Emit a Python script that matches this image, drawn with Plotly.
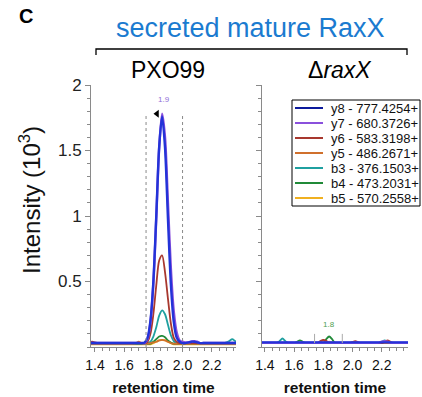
import plotly.graph_objects as go

# ---------------- data ----------------
RT = [1.36, 1.38, 1.40, 1.42, 1.44, 1.46, 1.48, 1.50, 1.52, 1.54, 1.56, 1.58, 1.60,
      1.62, 1.64, 1.66, 1.68, 1.70, 1.72, 1.74, 1.76, 1.78, 1.80, 1.82, 1.84, 1.86,
      1.88, 1.90, 1.92, 1.94, 1.96, 1.98, 2.00, 2.02, 2.04, 2.06, 2.08, 2.10, 2.12,
      2.14, 2.16, 2.18, 2.20, 2.22, 2.24, 2.26, 2.28, 2.30, 2.32, 2.34, 2.36, 2.38]

SERIES_NAMES = ["y8 - 777.4254+", "y7 - 680.3726+", "y6 - 583.3198+", "y5 - 486.2671+",
                "b3 - 376.1503+", "b4 - 473.2031+", "b5 - 570.2558+"]
COLORS = ["#2333d8", "#8a50dc", "#a8382e", "#d0702c", "#1fa0a0", "#208a38", "#f0b020"]
LEGEND_COLORS = ["#0c1a9c", "#8a50dc", "#a8382e", "#d0702c", "#1fa0a0", "#208a38", "#f0b020"]

# PXO99 intensities (10^3)
PXO_Y8 = [0.03, 0.03, 0.03, 0.03, 0.03, 0.03, 0.03, 0.03, 0.03, 0.03, 0.03, 0.03, 0.03,
          0.03, 0.03, 0.03, 0.03, 0.03, 0.03, 0.035, 0.07, 0.2, 0.5, 1.0, 1.53, 1.76,
          1.52, 0.98, 0.48, 0.19, 0.07, 0.04, 0.03, 0.03, 0.035, 0.04, 0.04, 0.035, 0.03,
          0.03, 0.03, 0.03, 0.03, 0.03, 0.03, 0.03, 0.03, 0.03, 0.03, 0.03, 0.03, 0.03]
PXO_Y7 = [0.03, 0.03, 0.03, 0.03, 0.03, 0.03, 0.03, 0.03, 0.03, 0.03, 0.03, 0.03, 0.03,
          0.03, 0.03, 0.03, 0.03, 0.03, 0.03, 0.03, 0.06, 0.19, 0.48, 0.98, 1.52, 1.78,
          1.6, 1.1, 0.6, 0.27, 0.11, 0.05, 0.04, 0.035, 0.035, 0.04, 0.045, 0.04, 0.03,
          0.03, 0.03, 0.03, 0.03, 0.03, 0.03, 0.03, 0.03, 0.03, 0.03, 0.03, 0.03, 0.03]
PXO_Y6 = [0.03, 0.04, 0.035, 0.03, 0.03, 0.03, 0.03, 0.03, 0.03, 0.03, 0.03, 0.03, 0.03,
          0.03, 0.03, 0.03, 0.03, 0.03, 0.03, 0.03, 0.04, 0.1, 0.25, 0.47, 0.66, 0.7,
          0.57, 0.37, 0.18, 0.07, 0.04, 0.03, 0.03, 0.03, 0.03, 0.03, 0.03, 0.03, 0.03,
          0.03, 0.03, 0.03, 0.03, 0.03, 0.03, 0.03, 0.03, 0.03, 0.03, 0.03, 0.03, 0.03]
PXO_Y5 = [0.025, 0.025, 0.025, 0.025, 0.025, 0.025, 0.025, 0.025, 0.025, 0.025, 0.025, 0.025, 0.025,
          0.025, 0.025, 0.025, 0.03, 0.04, 0.03, 0.025, 0.025, 0.03, 0.035, 0.04, 0.05, 0.055,
          0.05, 0.04, 0.03, 0.025, 0.025, 0.025, 0.025, 0.025, 0.025, 0.025, 0.025, 0.025, 0.025,
          0.025, 0.025, 0.025, 0.025, 0.025, 0.025, 0.025, 0.025, 0.025, 0.025, 0.025, 0.025, 0.025]
PXO_B3 = [0.03, 0.03, 0.03, 0.03, 0.03, 0.03, 0.03, 0.03, 0.03, 0.03, 0.03, 0.03, 0.03,
          0.03, 0.03, 0.03, 0.03, 0.03, 0.03, 0.03, 0.03, 0.04, 0.08, 0.15, 0.24, 0.28,
          0.25, 0.17, 0.09, 0.045, 0.03, 0.03, 0.03, 0.03, 0.03, 0.03, 0.03, 0.03, 0.03,
          0.03, 0.03, 0.03, 0.03, 0.03, 0.03, 0.03, 0.03, 0.035, 0.045, 0.06, 0.045, 0.03]
PXO_B4 = [0.025, 0.025, 0.025, 0.025, 0.025, 0.025, 0.025, 0.025, 0.025, 0.025, 0.025, 0.025, 0.025,
          0.025, 0.025, 0.025, 0.025, 0.025, 0.025, 0.025, 0.025, 0.025, 0.04, 0.06, 0.08, 0.085,
          0.075, 0.05, 0.035, 0.025, 0.025, 0.025, 0.025, 0.025, 0.025, 0.025, 0.025, 0.025, 0.025,
          0.025, 0.025, 0.025, 0.025, 0.025, 0.025, 0.025, 0.025, 0.025, 0.025, 0.025, 0.025, 0.025]
PXO_B5 = [0.02, 0.02, 0.02, 0.02, 0.02, 0.02, 0.02, 0.02, 0.02, 0.02, 0.02, 0.02, 0.02,
          0.02, 0.02, 0.02, 0.02, 0.02, 0.02, 0.02, 0.02, 0.02, 0.03, 0.04, 0.05, 0.055,
          0.05, 0.04, 0.03, 0.02, 0.02, 0.02, 0.02, 0.02, 0.02, 0.02, 0.02, 0.02, 0.02,
          0.02, 0.02, 0.02, 0.02, 0.02, 0.02, 0.02, 0.02, 0.02, 0.02, 0.02, 0.02, 0.02]

# delta raxX intensities (10^3)
RAX_Y8 = [0.035, 0.035, 0.035, 0.035, 0.035, 0.035, 0.035, 0.035, 0.035, 0.035, 0.035, 0.035, 0.035,
          0.035, 0.035, 0.035, 0.035, 0.035, 0.035, 0.035, 0.035, 0.035, 0.035, 0.035, 0.035, 0.035,
          0.035, 0.035, 0.035, 0.035, 0.035, 0.035, 0.035, 0.035, 0.035, 0.035, 0.035, 0.035, 0.035,
          0.035, 0.035, 0.035, 0.035, 0.035, 0.035, 0.035, 0.035, 0.035, 0.035, 0.035, 0.035, 0.035]
RAX_Y7 = [0.033, 0.033, 0.033, 0.033, 0.033, 0.033, 0.033, 0.033, 0.033, 0.033, 0.033, 0.033, 0.033,
          0.033, 0.033, 0.033, 0.033, 0.033, 0.033, 0.033, 0.033, 0.033, 0.033, 0.033, 0.033, 0.033,
          0.033, 0.033, 0.033, 0.033, 0.033, 0.033, 0.033, 0.033, 0.033, 0.033, 0.033, 0.033, 0.033,
          0.033, 0.033, 0.033, 0.04, 0.045, 0.04, 0.033, 0.033, 0.033, 0.033, 0.033, 0.033, 0.033]
RAX_Y6 = [0.03, 0.03, 0.03, 0.03, 0.03, 0.03, 0.03, 0.03, 0.03, 0.03, 0.03, 0.03, 0.03,
          0.03, 0.03, 0.03, 0.03, 0.03, 0.03, 0.03, 0.03, 0.045, 0.055, 0.045, 0.03, 0.03,
          0.03, 0.03, 0.03, 0.03, 0.03, 0.03, 0.035, 0.045, 0.035, 0.03, 0.03, 0.03, 0.03,
          0.03, 0.03, 0.03, 0.03, 0.04, 0.05, 0.04, 0.03, 0.03, 0.03, 0.03, 0.03, 0.03]
RAX_Y5 = [0.03, 0.03, 0.03, 0.03, 0.03, 0.03, 0.03, 0.03, 0.03, 0.03, 0.03, 0.03, 0.03,
          0.03, 0.03, 0.03, 0.03, 0.03, 0.03, 0.03, 0.03, 0.04, 0.05, 0.045, 0.03, 0.03,
          0.03, 0.03, 0.03, 0.03, 0.03, 0.03, 0.04, 0.04, 0.03, 0.03, 0.03, 0.03, 0.03,
          0.03, 0.03, 0.03, 0.03, 0.03, 0.03, 0.03, 0.03, 0.03, 0.03, 0.03, 0.03, 0.03]
RAX_B3 = [0.03, 0.03, 0.03, 0.03, 0.03, 0.03, 0.03, 0.045, 0.065, 0.045, 0.03, 0.03, 0.03,
          0.03, 0.03, 0.03, 0.03, 0.03, 0.03, 0.03, 0.03, 0.03, 0.03, 0.03, 0.03, 0.03,
          0.03, 0.03, 0.03, 0.03, 0.03, 0.03, 0.03, 0.03, 0.03, 0.03, 0.03, 0.03, 0.03,
          0.03, 0.03, 0.03, 0.04, 0.05, 0.04, 0.03, 0.03, 0.03, 0.03, 0.03, 0.03, 0.03]
RAX_B4 = [0.03, 0.03, 0.03, 0.03, 0.03, 0.03, 0.03, 0.03, 0.03, 0.03, 0.03, 0.03, 0.03,
          0.04, 0.05, 0.04, 0.03, 0.03, 0.03, 0.03, 0.03, 0.03, 0.03, 0.06, 0.08, 0.06,
          0.03, 0.03, 0.03, 0.03, 0.03, 0.03, 0.03, 0.03, 0.03, 0.03, 0.03, 0.03, 0.03,
          0.03, 0.03, 0.03, 0.03, 0.03, 0.03, 0.03, 0.03, 0.03, 0.03, 0.03, 0.03, 0.03]
RAX_B5 = [0.03, 0.03, 0.03, 0.03, 0.03, 0.03, 0.03, 0.03, 0.03, 0.03, 0.03, 0.03, 0.03,
          0.03, 0.03, 0.03, 0.03, 0.03, 0.03, 0.03, 0.03, 0.03, 0.03, 0.035, 0.04, 0.035,
          0.03, 0.03, 0.03, 0.03, 0.03, 0.03, 0.03, 0.03, 0.03, 0.03, 0.03, 0.03, 0.03,
          0.03, 0.03, 0.03, 0.03, 0.03, 0.03, 0.03, 0.03, 0.03, 0.03, 0.03, 0.03, 0.03]

PXO_SERIES = [PXO_Y8, PXO_Y7, PXO_Y6, PXO_Y5, PXO_B3, PXO_B4, PXO_B5]
RAX_SERIES = [RAX_Y8, RAX_Y7, RAX_Y6, RAX_Y5, RAX_B3, RAX_B4, RAX_B5]

X_TICKS = [1.4, 1.6, 1.8, 2.0, 2.2]
Y_TICKS = [0.5, 1, 1.5, 2]
PXO_BOUNDS = [1.75, 2.0]      # integration window, PXO99
RAX_BOUNDS = [1.74, 1.93]     # integration window, delta raxX
PXO_APEX = (1.86, 1.78, "1.9")
RAX_APEX = (1.84, 0.08, "1.8")

# ---------------- layout helpers ----------------
W, H = 422, 397
ML, MR, MT, MB = 91, 14, 85, 50
PW, PH = W - ML - MR, H - MT - MB
FONT = "Liberation Sans, Arial, sans-serif"


def px(x):
    return (x - ML) / PW


def py(y):
    return (H - MB - y) / PH


fig = go.Figure()

# traces: draw b5 first so y8 is on top
for xa, ya, series in (("x", "y", PXO_SERIES), ("x2", "y2", RAX_SERIES)):
    for i in reversed(range(len(SERIES_NAMES))):
        fig.add_trace(go.Scatter(
            x=RT, y=series[i], name=SERIES_NAMES[i], xaxis=xa, yaxis=ya,
            mode="lines", line=dict(color=COLORS[i], width=2.4 if i < 2 else 1.8,
                                    shape="spline", smoothing=0.8),
            showlegend=False, hoverinfo="skip"))

# apex marker (black arrow) in PXO99 panel
fig.add_trace(go.Scatter(x=[PXO_APEX[0] - 0.035], y=[PXO_APEX[1]], mode="markers",
                         marker=dict(symbol="triangle-left", size=7, color="black"),
                         xaxis="x", yaxis="y", showlegend=False, hoverinfo="skip"))

axis_common = dict(showgrid=False, zeroline=False, showline=True, linecolor="#8a8a8a",
                   linewidth=1, ticks="outside", tickcolor="#8a8a8a", automargin=False)

fig.update_layout(
    width=W, height=H, margin=dict(l=ML, r=MR, t=MT, b=MB, autoexpand=False),
    paper_bgcolor="white", plot_bgcolor="white", showlegend=False,
    font=dict(family=FONT, color="#111"),
    xaxis=dict(domain=[0, px(236)], range=[1.373, 2.366], tickvals=X_TICKS,
               tickformat=".1f", ticklen=4, tickfont=dict(size=14), ticklabelstandoff=1,
               minor=dict(dtick=0.05, ticklen=3, ticks="outside", tickcolor="#8a8a8a"),
               title=dict(text="<b>retention time</b>", font=dict(size=15.5), standoff=10),
               **axis_common),
    xaxis2=dict(domain=[px(262), 1], range=[1.38, 2.38], tickvals=X_TICKS,
                tickformat=".1f", ticklen=4, tickfont=dict(size=14), ticklabelstandoff=1,
                minor=dict(dtick=0.05, ticklen=3, ticks="outside", tickcolor="#8a8a8a"),
                title=dict(text="<b>retention time</b>", font=dict(size=15.5), standoff=10),
                **axis_common),
    yaxis=dict(domain=[0, 1], range=[0, 2], tickvals=Y_TICKS, ticklen=5,
               tickfont=dict(size=17, color="#222"), anchor="x",
               minor=dict(dtick=0.1, ticklen=3, ticks="outside", tickcolor="#8a8a8a"),
               **axis_common),
    yaxis2=dict(domain=[0, 1], range=[0, 2], tickvals=Y_TICKS, ticklen=5,
                showticklabels=False, anchor="x2",
                minor=dict(dtick=0.1, ticklen=3, ticks="outside", tickcolor="#8a8a8a"),
                **axis_common),
)

shapes = []
# integration window lines
for b in PXO_BOUNDS:
    shapes.append(dict(type="line", xref="x", yref="y", x0=b, x1=b, y0=0, y1=1.78,
                       line=dict(color="#8a8a8a", width=1, dash="dot")))
for b in RAX_BOUNDS:
    shapes.append(dict(type="line", xref="x2", yref="y2", x0=b, x1=b, y0=0.03, y1=0.1,
                       line=dict(color="#aaaaaa", width=1)))
# bracket
shapes.append(dict(type="path", xref="paper", yref="paper",
                   path=f"M {px(96)} {py(55)} L {px(96)} {py(49)} L {px(407)} {py(49)} L {px(407)} {py(55)}",
                   line=dict(color="black", width=1.3)))
# legend box
shapes.append(dict(type="rect", xref="paper", yref="paper", x0=px(292), x1=px(420),
                   y0=py(206), y1=py(100), line=dict(color="black", width=1),
                   fillcolor="white", layer="above"))
annotations = []
for i, name in enumerate(SERIES_NAMES):
    yy = 108 + 15 * i
    shapes.append(dict(type="line", xref="paper", yref="paper", x0=px(295), x1=px(323),
                       y0=py(yy), y1=py(yy), line=dict(color=LEGEND_COLORS[i], width=2),
                       layer="above"))
    annotations.append(dict(text=name, xref="paper", yref="paper", x=px(329), y=py(yy),
                            xanchor="left", yanchor="middle", showarrow=False,
                            font=dict(size=13, color="#111")))
fig.update_layout(shapes=shapes)

annotations += [
    dict(text="<b>C</b>", x=px(17), y=py(16), xanchor="left", yanchor="middle",
         font=dict(size=20, color="black")),
    dict(text="secreted mature RaxX", x=px(250), y=py(28), xanchor="center", yanchor="middle",
         font=dict(size=27, color="#1b7bd0")),
    dict(text="PXO99", x=px(168), y=py(70), xanchor="center", yanchor="middle",
         font=dict(size=23, color="black")),
    dict(text="Δ<i>raxX</i>", x=px(340), y=py(70), xanchor="center", yanchor="middle",
         font=dict(size=23, color="black")),
    dict(text="Intensity (10<sup>3</sup>)", x=px(30), y=py(200), xanchor="center",
         yanchor="middle", textangle=-90, font=dict(size=24, color="#111")),
]
for a in annotations:
    a.setdefault("xref", "paper")
    a.setdefault("yref", "paper")
    a["showarrow"] = False

annotations.append(dict(text=PXO_APEX[2], x=PXO_APEX[0] + 0.01, y=PXO_APEX[1] + 0.06,
                        xref="x", yref="y", showarrow=False, xanchor="center",
                        yanchor="bottom", font=dict(size=8, color="#9070d8")))
annotations.append(dict(text=RAX_APEX[2], x=RAX_APEX[0], y=RAX_APEX[1] + 0.04,
                        xref="x2", yref="y2", showarrow=False, xanchor="center",
                        yanchor="bottom", font=dict(size=8, color="#50a050")))
fig.update_layout(annotations=annotations)

fig.write_html("out.html", config={"displayModeBar": False},
               post_script="document.body.style.margin='0';document.body.style.overflow='hidden';")
